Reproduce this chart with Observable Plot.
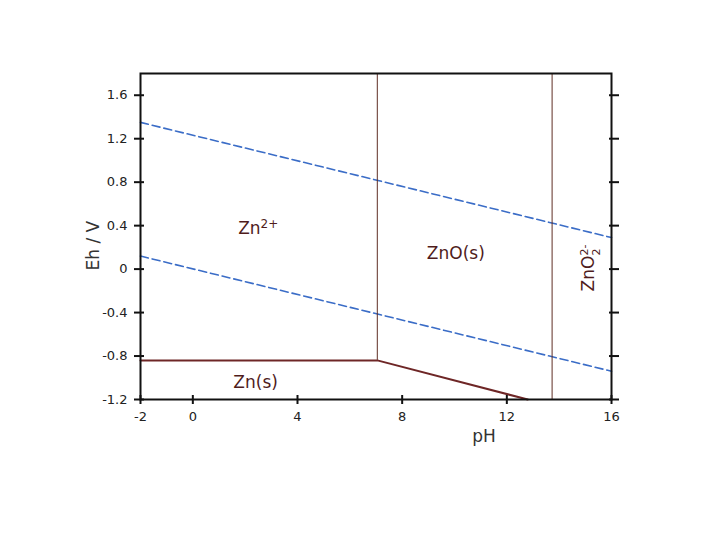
<!DOCTYPE html>
<html>
<head>
<meta charset="utf-8">
<script src="https://cdn.jsdelivr.net/npm/d3@7"></script>
<script src="https://cdn.jsdelivr.net/npm/@observablehq/plot@0.6"></script>
<style>
  html, body { margin: 0; padding: 0; background: #ffffff; }
  #chart { width: 720px; height: 540px; }
</style>
</head>
<body>
<div id="chart"></div>
<script>
// Axis ticks
const phTicks = [-2, 0, 4, 8, 12, 16];
const ehTicks = [-1.2, -0.8, -0.4, 0, 0.4, 0.8, 1.2, 1.6];

// Water stability lines (dashed)
const upperWaterPH = [-2, 16];
const upperWaterEh = [1.35, 0.29];
const lowerWaterPH = [-2, 16];
const lowerWaterEh = [0.12, -0.94];

// Zn(s) boundary (solid)
const znSolidPH = [-2, 7.05, 12.8];
const znSolidEh = [-0.84, -0.84, -1.2];

// Vertical boundaries
const boundaryPH = [7.05, 13.73];
const boundaryEhLow = [-0.84, -1.2];
const boundaryEhHigh = [1.8, 1.8];

// Region labels
const labelText = ["Zn²⁺", "ZnO(s)", "Zn(s)"];
const labelPH = [2.5, 10.05, 2.4];
const labelEh = [0.37, 0.14, -1.04];
const sideLabelText = ["ZnO₂²⁻"];
const sideLabelPH = [15.12];
const sideLabelEh = [0.01];

const toRows = (xs, ys) => xs.map((x, i) => ({x, y: ys[i]}));

const plot = Plot.plot({
  width: 720,
  height: 540,
  marginTop: 73,
  marginBottom: 141,
  marginLeft: 140,
  marginRight: 109,
  x: {domain: [-2, 16]},
  y: {domain: [-1.2, 1.8]},
  style: {fontFamily: "'DejaVu Sans', Verdana, sans-serif", fontSize: "13px", background: "#ffffff", color: "#222"},
  marks: [
    Plot.line(toRows(upperWaterPH, upperWaterEh), {x: "x", y: "y", stroke: "#3b6dc7", strokeWidth: 1.6, strokeDasharray: "8,4"}),
    Plot.line(toRows(lowerWaterPH, lowerWaterEh), {x: "x", y: "y", stroke: "#3b6dc7", strokeWidth: 1.6, strokeDasharray: "8,4"}),
    Plot.ruleX(boundaryPH.map((x, i) => ({x, y1: boundaryEhLow[i], y2: boundaryEhHigh[i]})), {x: "x", y1: "y1", y2: "y2", stroke: "#5e2e24", strokeWidth: 1}),
    Plot.line(toRows(znSolidPH, znSolidEh), {x: "x", y: "y", stroke: "#6e2626", strokeWidth: 2}),
    Plot.text(labelText.map((t, i) => ({t, x: labelPH[i], y: labelEh[i]})), {x: "x", y: "y", text: "t", fill: "#4f1c1c", fontSize: 17, className: "region-label"}),
    Plot.text(sideLabelText.map((t, i) => ({t, x: sideLabelPH[i], y: sideLabelEh[i]})), {x: "x", y: "y", text: "t", fill: "#4f1c1c", fontSize: 17, rotate: -90, className: "side-label"}),
    Plot.frame({stroke: "#111", strokeWidth: 2}),
    Plot.axisY({anchor: "left", ticks: ehTicks, tickSize: 10, dx: 4, tickPadding: 7, tickFormat: d => d === 0 ? "0" : d.toFixed(1), label: null, stroke: "#111", fill: "#222", strokeWidth: 2, fontSize: 13}),
    Plot.axisY({anchor: "right", ticks: ehTicks, tickSize: 10, dx: -3, tickFormat: () => "", label: null, stroke: "#111", strokeWidth: 2}),
    Plot.axisX({anchor: "bottom", ticks: phTicks, tickSize: 9, dy: -4, tickPadding: 7, tickFormat: d => String(d), label: null, stroke: "#111", fill: "#222", strokeWidth: 2, fontSize: 13}),
    Plot.text(["pH"], {frameAnchor: "bottom", dx: 108, dy: 42, fill: "#333", fontSize: 17}),
    Plot.text(["Eh / V"], {frameAnchor: "left", dx: -47, dy: 34, rotate: -90, fill: "#333", fontSize: 17})
  ]
});

// Render super/subscripts as styled tspans (keeps text as real text)
const svgNS = "http://www.w3.org/2000/svg";
function rebuild(el, parts) {
  while (el.firstChild) el.removeChild(el.firstChild);
  for (const p of parts) {
    const ts = document.createElementNS(svgNS, "tspan");
    ts.textContent = p.t;
    if (p.dx != null) ts.setAttribute("dx", p.dx);
    if (p.dy != null) ts.setAttribute("dy", p.dy);
    if (p.fs != null) ts.setAttribute("font-size", p.fs);
    el.appendChild(ts);
  }
}
plot.querySelectorAll("text").forEach(el => {
  const s = el.textContent;
  if (s === "Zn²⁺") {
    rebuild(el, [{t: "Zn"}, {t: "2+", dy: -6, fs: 12}]);
  } else if (s === "ZnO₂²⁻") {
    rebuild(el, [{t: "ZnO"}, {t: "2-", dy: -6, fs: 11}, {t: "2", dx: -11, dy: 12, fs: 11}]);
  }
});

document.getElementById("chart").appendChild(plot);
</script>
</body>
</html>
